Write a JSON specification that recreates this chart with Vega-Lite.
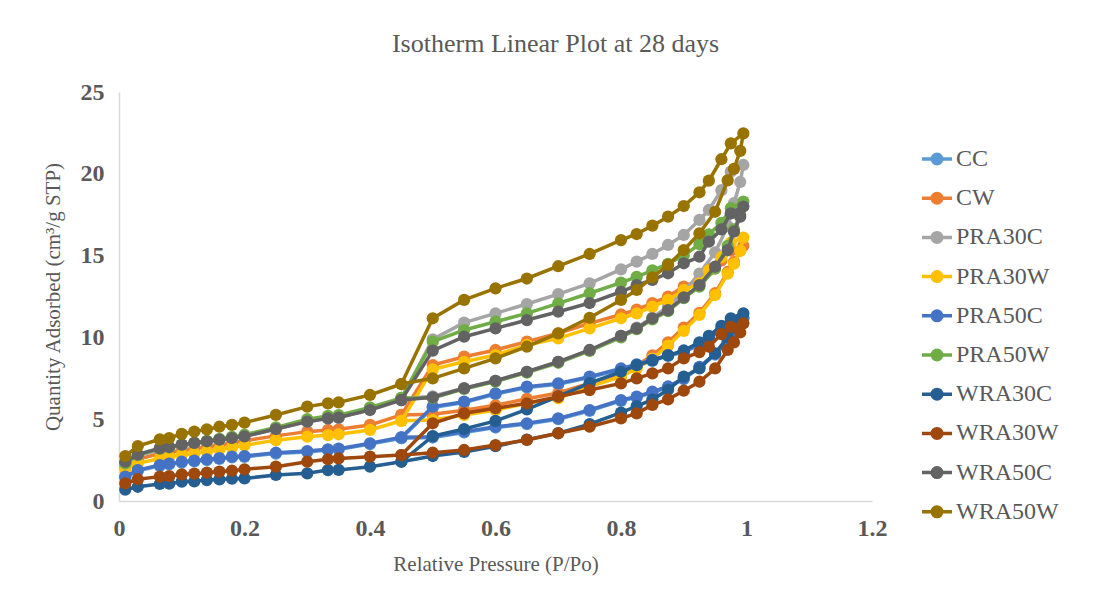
{
"$schema":"https://vega.github.io/schema/vega-lite/v6.json",
"width":753,"height":409,
"autosize":{"type":"none"},
"padding":{"left":119,"top":92,"right":222,"bottom":102},
"background":"white",
"title":{"text":"Isotherm Linear Plot at 28 days","font":"Liberation Serif","fontSize":26,"fontWeight":"normal","color":"#595959","anchor":"middle","dx":60,"offset":23},
"config":{
 "view":{"stroke":null},
 "axis":{"domainColor":"#D9D9D9","domainWidth":1.5,"grid":false,"ticks":false,"labelFont":"Liberation Serif","labelFontSize":24,"labelFontWeight":"bold","labelColor":"#595959","titleFont":"Liberation Serif","titleFontSize":21,"titleFontWeight":"normal","titleColor":"#595959","labelFlush":false},
 "axisX":{"labelPadding":15,"titlePadding":13},
 "axisY":{"labelPadding":15,"titlePadding":17}
},
"data":{"values":[
{"s":"CC","o":0,"p":0.01,"q":1.44},{"s":"CC","o":1,"p":0.03,"q":1.84},{"s":"CC","o":2,"p":0.065,"q":2.15},{"s":"CC","o":3,"p":0.08,"q":2.23},{"s":"CC","o":4,"p":0.1,"q":2.35},{"s":"CC","o":5,"p":0.12,"q":2.42},{"s":"CC","o":6,"p":0.14,"q":2.5},{"s":"CC","o":7,"p":0.16,"q":2.57},{"s":"CC","o":8,"p":0.18,"q":2.66},{"s":"CC","o":9,"p":0.2,"q":2.7},{"s":"CC","o":10,"p":0.25,"q":2.9},{"s":"CC","o":11,"p":0.3,"q":3.0},{"s":"CC","o":12,"p":0.333,"q":3.11},{"s":"CC","o":13,"p":0.35,"q":3.15},{"s":"CC","o":14,"p":0.4,"q":3.48},{"s":"CC","o":15,"p":0.45,"q":3.84},{"s":"CC","o":16,"p":0.5,"q":3.88},{"s":"CC","o":17,"p":0.55,"q":4.19},{"s":"CC","o":18,"p":0.6,"q":4.49},{"s":"CC","o":19,"p":0.65,"q":4.7},{"s":"CC","o":20,"p":0.7,"q":5.0},{"s":"CC","o":21,"p":0.75,"q":5.51},{"s":"CC","o":22,"p":0.8,"q":6.12},{"s":"CC","o":23,"p":0.825,"q":6.33},{"s":"CC","o":24,"p":0.85,"q":6.63},{"s":"CC","o":25,"p":0.875,"q":6.95},{"s":"CC","o":26,"p":0.9,"q":7.45},{"s":"CC","o":27,"p":0.925,"q":8.15},{"s":"CC","o":28,"p":0.95,"q":8.95},{"s":"CC","o":29,"p":0.97,"q":9.75},{"s":"CC","o":30,"p":0.98,"q":10.25},{"s":"CC","o":31,"p":0.99,"q":10.75},{"s":"CC","o":32,"p":0.995,"q":11.15},{"s":"CC","o":33,"p":0.975,"q":10.95},{"s":"CC","o":34,"p":0.96,"q":10.45},{"s":"CC","o":35,"p":0.94,"q":9.95},{"s":"CC","o":36,"p":0.925,"q":9.55},{"s":"CC","o":37,"p":0.9,"q":9.08},{"s":"CC","o":38,"p":0.875,"q":8.87},{"s":"CC","o":39,"p":0.85,"q":8.57},{"s":"CC","o":40,"p":0.825,"q":8.3},{"s":"CC","o":41,"p":0.8,"q":8.05},{"s":"CC","o":42,"p":0.75,"q":7.55},{"s":"CC","o":43,"p":0.7,"q":7.14},{"s":"CC","o":44,"p":0.65,"q":6.94},{"s":"CC","o":45,"p":0.6,"q":6.53},{"s":"CC","o":46,"p":0.55,"q":6.02},{"s":"CC","o":47,"p":0.5,"q":5.72},{"s":"CC","o":48,"p":0.45,"q":3.84},
{"s":"CW","o":0,"p":0.01,"q":2.1},{"s":"CW","o":1,"p":0.03,"q":2.55},{"s":"CW","o":2,"p":0.065,"q":2.9},{"s":"CW","o":3,"p":0.08,"q":2.97},{"s":"CW","o":4,"p":0.1,"q":3.1},{"s":"CW","o":5,"p":0.12,"q":3.2},{"s":"CW","o":6,"p":0.14,"q":3.3},{"s":"CW","o":7,"p":0.16,"q":3.42},{"s":"CW","o":8,"p":0.18,"q":3.55},{"s":"CW","o":9,"p":0.2,"q":3.68},{"s":"CW","o":10,"p":0.25,"q":3.98},{"s":"CW","o":11,"p":0.3,"q":4.24},{"s":"CW","o":12,"p":0.333,"q":4.34},{"s":"CW","o":13,"p":0.35,"q":4.38},{"s":"CW","o":14,"p":0.4,"q":4.65},{"s":"CW","o":15,"p":0.45,"q":5.26},{"s":"CW","o":16,"p":0.5,"q":5.3},{"s":"CW","o":17,"p":0.55,"q":5.55},{"s":"CW","o":18,"p":0.6,"q":5.85},{"s":"CW","o":19,"p":0.65,"q":6.25},{"s":"CW","o":20,"p":0.7,"q":6.6},{"s":"CW","o":21,"p":0.75,"q":7.2},{"s":"CW","o":22,"p":0.8,"q":7.8},{"s":"CW","o":23,"p":0.825,"q":8.3},{"s":"CW","o":24,"p":0.85,"q":8.9},{"s":"CW","o":25,"p":0.875,"q":9.7},{"s":"CW","o":26,"p":0.9,"q":10.6},{"s":"CW","o":27,"p":0.925,"q":11.5},{"s":"CW","o":28,"p":0.95,"q":12.7},{"s":"CW","o":29,"p":0.97,"q":14.0},{"s":"CW","o":30,"p":0.98,"q":14.6},{"s":"CW","o":31,"p":0.99,"q":15.3},{"s":"CW","o":32,"p":0.995,"q":15.6},{"s":"CW","o":33,"p":0.975,"q":15.3},{"s":"CW","o":34,"p":0.96,"q":14.7},{"s":"CW","o":35,"p":0.94,"q":14.2},{"s":"CW","o":36,"p":0.925,"q":13.5},{"s":"CW","o":37,"p":0.9,"q":13.1},{"s":"CW","o":38,"p":0.875,"q":12.5},{"s":"CW","o":39,"p":0.85,"q":12.1},{"s":"CW","o":40,"p":0.825,"q":11.7},{"s":"CW","o":41,"p":0.8,"q":11.4},{"s":"CW","o":42,"p":0.75,"q":10.86},{"s":"CW","o":43,"p":0.7,"q":10.25},{"s":"CW","o":44,"p":0.65,"q":9.74},{"s":"CW","o":45,"p":0.6,"q":9.23},{"s":"CW","o":46,"p":0.55,"q":8.82},{"s":"CW","o":47,"p":0.5,"q":8.31},{"s":"CW","o":48,"p":0.45,"q":5.26},
{"s":"PRA30C","o":0,"p":0.01,"q":2.25},{"s":"PRA30C","o":1,"p":0.03,"q":2.75},{"s":"PRA30C","o":2,"p":0.065,"q":3.15},{"s":"PRA30C","o":3,"p":0.08,"q":3.25},{"s":"PRA30C","o":4,"p":0.1,"q":3.4},{"s":"PRA30C","o":5,"p":0.12,"q":3.5},{"s":"PRA30C","o":6,"p":0.14,"q":3.62},{"s":"PRA30C","o":7,"p":0.16,"q":3.72},{"s":"PRA30C","o":8,"p":0.18,"q":3.84},{"s":"PRA30C","o":9,"p":0.2,"q":3.95},{"s":"PRA30C","o":10,"p":0.25,"q":4.4},{"s":"PRA30C","o":11,"p":0.3,"q":4.85},{"s":"PRA30C","o":12,"p":0.333,"q":5.05},{"s":"PRA30C","o":13,"p":0.35,"q":5.1},{"s":"PRA30C","o":14,"p":0.4,"q":5.6},{"s":"PRA30C","o":15,"p":0.45,"q":6.25},{"s":"PRA30C","o":16,"p":0.5,"q":6.4},{"s":"PRA30C","o":17,"p":0.55,"q":6.9},{"s":"PRA30C","o":18,"p":0.6,"q":7.35},{"s":"PRA30C","o":19,"p":0.65,"q":7.9},{"s":"PRA30C","o":20,"p":0.7,"q":8.5},{"s":"PRA30C","o":21,"p":0.75,"q":9.2},{"s":"PRA30C","o":22,"p":0.8,"q":10.1},{"s":"PRA30C","o":23,"p":0.825,"q":10.6},{"s":"PRA30C","o":24,"p":0.85,"q":11.2},{"s":"PRA30C","o":25,"p":0.875,"q":11.9},{"s":"PRA30C","o":26,"p":0.9,"q":12.8},{"s":"PRA30C","o":27,"p":0.925,"q":13.9},{"s":"PRA30C","o":28,"p":0.95,"q":15.2},{"s":"PRA30C","o":29,"p":0.97,"q":16.8},{"s":"PRA30C","o":30,"p":0.98,"q":18.2},{"s":"PRA30C","o":31,"p":0.99,"q":19.5},{"s":"PRA30C","o":32,"p":0.995,"q":20.54},{"s":"PRA30C","o":33,"p":0.975,"q":20.13},{"s":"PRA30C","o":34,"p":0.96,"q":19.0},{"s":"PRA30C","o":35,"p":0.94,"q":17.79},{"s":"PRA30C","o":36,"p":0.925,"q":17.18},{"s":"PRA30C","o":37,"p":0.9,"q":16.26},{"s":"PRA30C","o":38,"p":0.875,"q":15.65},{"s":"PRA30C","o":39,"p":0.85,"q":15.1},{"s":"PRA30C","o":40,"p":0.825,"q":14.63},{"s":"PRA30C","o":41,"p":0.8,"q":14.16},{"s":"PRA30C","o":42,"p":0.75,"q":13.3},{"s":"PRA30C","o":43,"p":0.7,"q":12.65},{"s":"PRA30C","o":44,"p":0.65,"q":12.04},{"s":"PRA30C","o":45,"p":0.6,"q":11.47},{"s":"PRA30C","o":46,"p":0.55,"q":10.9},{"s":"PRA30C","o":47,"p":0.5,"q":9.88},{"s":"PRA30C","o":48,"p":0.45,"q":6.25},
{"s":"PRA30W","o":0,"p":0.01,"q":1.95},{"s":"PRA30W","o":1,"p":0.03,"q":2.3},{"s":"PRA30W","o":2,"p":0.065,"q":2.6},{"s":"PRA30W","o":3,"p":0.08,"q":2.7},{"s":"PRA30W","o":4,"p":0.1,"q":2.82},{"s":"PRA30W","o":5,"p":0.12,"q":2.92},{"s":"PRA30W","o":6,"p":0.14,"q":3.02},{"s":"PRA30W","o":7,"p":0.16,"q":3.15},{"s":"PRA30W","o":8,"p":0.18,"q":3.28},{"s":"PRA30W","o":9,"p":0.2,"q":3.4},{"s":"PRA30W","o":10,"p":0.25,"q":3.72},{"s":"PRA30W","o":11,"p":0.3,"q":3.93},{"s":"PRA30W","o":12,"p":0.333,"q":4.03},{"s":"PRA30W","o":13,"p":0.35,"q":4.08},{"s":"PRA30W","o":14,"p":0.4,"q":4.34},{"s":"PRA30W","o":15,"p":0.45,"q":4.9},{"s":"PRA30W","o":16,"p":0.5,"q":4.95},{"s":"PRA30W","o":17,"p":0.55,"q":5.26},{"s":"PRA30W","o":18,"p":0.6,"q":5.56},{"s":"PRA30W","o":19,"p":0.65,"q":5.97},{"s":"PRA30W","o":20,"p":0.7,"q":6.28},{"s":"PRA30W","o":21,"p":0.75,"q":6.99},{"s":"PRA30W","o":22,"p":0.8,"q":7.6},{"s":"PRA30W","o":23,"p":0.825,"q":8.1},{"s":"PRA30W","o":24,"p":0.85,"q":8.7},{"s":"PRA30W","o":25,"p":0.875,"q":9.5},{"s":"PRA30W","o":26,"p":0.9,"q":10.4},{"s":"PRA30W","o":27,"p":0.925,"q":11.37},{"s":"PRA30W","o":28,"p":0.95,"q":12.59},{"s":"PRA30W","o":29,"p":0.97,"q":13.9},{"s":"PRA30W","o":30,"p":0.98,"q":14.5},{"s":"PRA30W","o":31,"p":0.99,"q":15.3},{"s":"PRA30W","o":32,"p":0.995,"q":16.1},{"s":"PRA30W","o":33,"p":0.975,"q":15.8},{"s":"PRA30W","o":34,"p":0.96,"q":14.9},{"s":"PRA30W","o":35,"p":0.94,"q":14.1},{"s":"PRA30W","o":36,"p":0.925,"q":13.3},{"s":"PRA30W","o":37,"p":0.9,"q":12.9},{"s":"PRA30W","o":38,"p":0.875,"q":12.29},{"s":"PRA30W","o":39,"p":0.85,"q":11.88},{"s":"PRA30W","o":40,"p":0.825,"q":11.47},{"s":"PRA30W","o":41,"p":0.8,"q":11.17},{"s":"PRA30W","o":42,"p":0.75,"q":10.55},{"s":"PRA30W","o":43,"p":0.7,"q":9.94},{"s":"PRA30W","o":44,"p":0.65,"q":9.54},{"s":"PRA30W","o":45,"p":0.6,"q":8.92},{"s":"PRA30W","o":46,"p":0.55,"q":8.51},{"s":"PRA30W","o":47,"p":0.5,"q":8.05},{"s":"PRA30W","o":48,"p":0.45,"q":4.9},
{"s":"PRA50C","o":0,"p":0.01,"q":1.49},{"s":"PRA50C","o":1,"p":0.03,"q":1.89},{"s":"PRA50C","o":2,"p":0.065,"q":2.2},{"s":"PRA50C","o":3,"p":0.08,"q":2.28},{"s":"PRA50C","o":4,"p":0.1,"q":2.4},{"s":"PRA50C","o":5,"p":0.12,"q":2.47},{"s":"PRA50C","o":6,"p":0.14,"q":2.55},{"s":"PRA50C","o":7,"p":0.16,"q":2.62},{"s":"PRA50C","o":8,"p":0.18,"q":2.71},{"s":"PRA50C","o":9,"p":0.2,"q":2.75},{"s":"PRA50C","o":10,"p":0.25,"q":2.95},{"s":"PRA50C","o":11,"p":0.3,"q":3.05},{"s":"PRA50C","o":12,"p":0.333,"q":3.16},{"s":"PRA50C","o":13,"p":0.35,"q":3.2},{"s":"PRA50C","o":14,"p":0.4,"q":3.53},{"s":"PRA50C","o":15,"p":0.45,"q":3.89},{"s":"PRA50C","o":16,"p":0.5,"q":3.93},{"s":"PRA50C","o":17,"p":0.55,"q":4.24},{"s":"PRA50C","o":18,"p":0.6,"q":4.54},{"s":"PRA50C","o":19,"p":0.65,"q":4.75},{"s":"PRA50C","o":20,"p":0.7,"q":5.05},{"s":"PRA50C","o":21,"p":0.75,"q":5.56},{"s":"PRA50C","o":22,"p":0.8,"q":6.17},{"s":"PRA50C","o":23,"p":0.825,"q":6.38},{"s":"PRA50C","o":24,"p":0.85,"q":6.68},{"s":"PRA50C","o":25,"p":0.875,"q":7.0},{"s":"PRA50C","o":26,"p":0.9,"q":7.5},{"s":"PRA50C","o":27,"p":0.925,"q":8.2},{"s":"PRA50C","o":28,"p":0.95,"q":9.0},{"s":"PRA50C","o":29,"p":0.97,"q":9.8},{"s":"PRA50C","o":30,"p":0.98,"q":10.3},{"s":"PRA50C","o":31,"p":0.99,"q":10.8},{"s":"PRA50C","o":32,"p":0.995,"q":11.2},{"s":"PRA50C","o":33,"p":0.975,"q":11.0},{"s":"PRA50C","o":34,"p":0.96,"q":10.5},{"s":"PRA50C","o":35,"p":0.94,"q":10.0},{"s":"PRA50C","o":36,"p":0.925,"q":9.6},{"s":"PRA50C","o":37,"p":0.9,"q":9.13},{"s":"PRA50C","o":38,"p":0.875,"q":8.92},{"s":"PRA50C","o":39,"p":0.85,"q":8.62},{"s":"PRA50C","o":40,"p":0.825,"q":8.35},{"s":"PRA50C","o":41,"p":0.8,"q":8.1},{"s":"PRA50C","o":42,"p":0.75,"q":7.6},{"s":"PRA50C","o":43,"p":0.7,"q":7.19},{"s":"PRA50C","o":44,"p":0.65,"q":6.99},{"s":"PRA50C","o":45,"p":0.6,"q":6.58},{"s":"PRA50C","o":46,"p":0.55,"q":6.07},{"s":"PRA50C","o":47,"p":0.5,"q":5.77},{"s":"PRA50C","o":48,"p":0.45,"q":3.89},
{"s":"PRA50W","o":0,"p":0.01,"q":2.3},{"s":"PRA50W","o":1,"p":0.03,"q":2.8},{"s":"PRA50W","o":2,"p":0.065,"q":3.2},{"s":"PRA50W","o":3,"p":0.08,"q":3.28},{"s":"PRA50W","o":4,"p":0.1,"q":3.45},{"s":"PRA50W","o":5,"p":0.12,"q":3.55},{"s":"PRA50W","o":6,"p":0.14,"q":3.68},{"s":"PRA50W","o":7,"p":0.16,"q":3.8},{"s":"PRA50W","o":8,"p":0.18,"q":3.92},{"s":"PRA50W","o":9,"p":0.2,"q":4.05},{"s":"PRA50W","o":10,"p":0.25,"q":4.5},{"s":"PRA50W","o":11,"p":0.3,"q":5.0},{"s":"PRA50W","o":12,"p":0.333,"q":5.2},{"s":"PRA50W","o":13,"p":0.35,"q":5.25},{"s":"PRA50W","o":14,"p":0.4,"q":5.72},{"s":"PRA50W","o":15,"p":0.45,"q":6.3},{"s":"PRA50W","o":16,"p":0.5,"q":6.3},{"s":"PRA50W","o":17,"p":0.55,"q":6.85},{"s":"PRA50W","o":18,"p":0.6,"q":7.3},{"s":"PRA50W","o":19,"p":0.65,"q":7.85},{"s":"PRA50W","o":20,"p":0.7,"q":8.45},{"s":"PRA50W","o":21,"p":0.75,"q":9.18},{"s":"PRA50W","o":22,"p":0.8,"q":10.0},{"s":"PRA50W","o":23,"p":0.825,"q":10.5},{"s":"PRA50W","o":24,"p":0.85,"q":11.1},{"s":"PRA50W","o":25,"p":0.875,"q":11.6},{"s":"PRA50W","o":26,"p":0.9,"q":12.4},{"s":"PRA50W","o":27,"p":0.925,"q":13.1},{"s":"PRA50W","o":28,"p":0.95,"q":14.2},{"s":"PRA50W","o":29,"p":0.97,"q":15.6},{"s":"PRA50W","o":30,"p":0.98,"q":16.6},{"s":"PRA50W","o":31,"p":0.99,"q":17.5},{"s":"PRA50W","o":32,"p":0.995,"q":18.3},{"s":"PRA50W","o":33,"p":0.975,"q":17.9},{"s":"PRA50W","o":34,"p":0.96,"q":17.0},{"s":"PRA50W","o":35,"p":0.94,"q":16.3},{"s":"PRA50W","o":36,"p":0.925,"q":15.7},{"s":"PRA50W","o":37,"p":0.9,"q":15.0},{"s":"PRA50W","o":38,"p":0.875,"q":14.5},{"s":"PRA50W","o":39,"p":0.85,"q":14.1},{"s":"PRA50W","o":40,"p":0.825,"q":13.7},{"s":"PRA50W","o":41,"p":0.8,"q":13.35},{"s":"PRA50W","o":42,"p":0.75,"q":12.7},{"s":"PRA50W","o":43,"p":0.7,"q":12.08},{"s":"PRA50W","o":44,"p":0.65,"q":11.47},{"s":"PRA50W","o":45,"p":0.6,"q":10.96},{"s":"PRA50W","o":46,"p":0.55,"q":10.45},{"s":"PRA50W","o":47,"p":0.5,"q":9.74},{"s":"PRA50W","o":48,"p":0.45,"q":6.3},
{"s":"WRA30C","o":0,"p":0.01,"q":0.7},{"s":"WRA30C","o":1,"p":0.03,"q":0.87},{"s":"WRA30C","o":2,"p":0.065,"q":1.04},{"s":"WRA30C","o":3,"p":0.08,"q":1.06},{"s":"WRA30C","o":4,"p":0.1,"q":1.18},{"s":"WRA30C","o":5,"p":0.12,"q":1.2},{"s":"WRA30C","o":6,"p":0.14,"q":1.28},{"s":"WRA30C","o":7,"p":0.16,"q":1.32},{"s":"WRA30C","o":8,"p":0.18,"q":1.36},{"s":"WRA30C","o":9,"p":0.2,"q":1.38},{"s":"WRA30C","o":10,"p":0.25,"q":1.59},{"s":"WRA30C","o":11,"p":0.3,"q":1.69},{"s":"WRA30C","o":12,"p":0.333,"q":1.89},{"s":"WRA30C","o":13,"p":0.35,"q":1.9},{"s":"WRA30C","o":14,"p":0.4,"q":2.1},{"s":"WRA30C","o":15,"p":0.45,"q":2.4},{"s":"WRA30C","o":16,"p":0.5,"q":2.75},{"s":"WRA30C","o":17,"p":0.55,"q":3.0},{"s":"WRA30C","o":18,"p":0.6,"q":3.35},{"s":"WRA30C","o":19,"p":0.65,"q":3.75},{"s":"WRA30C","o":20,"p":0.7,"q":4.15},{"s":"WRA30C","o":21,"p":0.75,"q":4.7},{"s":"WRA30C","o":22,"p":0.8,"q":5.4},{"s":"WRA30C","o":23,"p":0.825,"q":5.8},{"s":"WRA30C","o":24,"p":0.85,"q":6.2},{"s":"WRA30C","o":25,"p":0.875,"q":6.8},{"s":"WRA30C","o":26,"p":0.9,"q":7.6},{"s":"WRA30C","o":27,"p":0.925,"q":8.1},{"s":"WRA30C","o":28,"p":0.95,"q":9.03},{"s":"WRA30C","o":29,"p":0.97,"q":10.0},{"s":"WRA30C","o":30,"p":0.98,"q":10.6},{"s":"WRA30C","o":31,"p":0.99,"q":11.1},{"s":"WRA30C","o":32,"p":0.995,"q":11.47},{"s":"WRA30C","o":33,"p":0.975,"q":11.17},{"s":"WRA30C","o":34,"p":0.96,"q":10.7},{"s":"WRA30C","o":35,"p":0.94,"q":10.1},{"s":"WRA30C","o":36,"p":0.925,"q":9.7},{"s":"WRA30C","o":37,"p":0.9,"q":9.2},{"s":"WRA30C","o":38,"p":0.875,"q":8.9},{"s":"WRA30C","o":39,"p":0.85,"q":8.6},{"s":"WRA30C","o":40,"p":0.825,"q":8.3},{"s":"WRA30C","o":41,"p":0.8,"q":7.9},{"s":"WRA30C","o":42,"p":0.75,"q":7.2},{"s":"WRA30C","o":43,"p":0.7,"q":6.4},{"s":"WRA30C","o":44,"p":0.65,"q":5.6},{"s":"WRA30C","o":45,"p":0.6,"q":4.9},{"s":"WRA30C","o":46,"p":0.55,"q":4.4},{"s":"WRA30C","o":47,"p":0.5,"q":3.97},{"s":"WRA30C","o":48,"p":0.45,"q":2.4},
{"s":"WRA30W","o":0,"p":0.01,"q":1.08},{"s":"WRA30W","o":1,"p":0.03,"q":1.33},{"s":"WRA30W","o":2,"p":0.065,"q":1.49},{"s":"WRA30W","o":3,"p":0.08,"q":1.52},{"s":"WRA30W","o":4,"p":0.1,"q":1.63},{"s":"WRA30W","o":5,"p":0.12,"q":1.67},{"s":"WRA30W","o":6,"p":0.14,"q":1.73},{"s":"WRA30W","o":7,"p":0.16,"q":1.8},{"s":"WRA30W","o":8,"p":0.18,"q":1.85},{"s":"WRA30W","o":9,"p":0.2,"q":1.94},{"s":"WRA30W","o":10,"p":0.25,"q":2.1},{"s":"WRA30W","o":11,"p":0.3,"q":2.4},{"s":"WRA30W","o":12,"p":0.333,"q":2.55},{"s":"WRA30W","o":13,"p":0.35,"q":2.6},{"s":"WRA30W","o":14,"p":0.4,"q":2.71},{"s":"WRA30W","o":15,"p":0.45,"q":2.81},{"s":"WRA30W","o":16,"p":0.5,"q":2.95},{"s":"WRA30W","o":17,"p":0.55,"q":3.12},{"s":"WRA30W","o":18,"p":0.6,"q":3.42},{"s":"WRA30W","o":19,"p":0.65,"q":3.73},{"s":"WRA30W","o":20,"p":0.7,"q":4.14},{"s":"WRA30W","o":21,"p":0.75,"q":4.54},{"s":"WRA30W","o":22,"p":0.8,"q":5.05},{"s":"WRA30W","o":23,"p":0.825,"q":5.36},{"s":"WRA30W","o":24,"p":0.85,"q":5.87},{"s":"WRA30W","o":25,"p":0.875,"q":6.21},{"s":"WRA30W","o":26,"p":0.9,"q":6.74},{"s":"WRA30W","o":27,"p":0.925,"q":7.29},{"s":"WRA30W","o":28,"p":0.95,"q":8.1},{"s":"WRA30W","o":29,"p":0.97,"q":9.23},{"s":"WRA30W","o":30,"p":0.98,"q":9.7},{"s":"WRA30W","o":31,"p":0.99,"q":10.3},{"s":"WRA30W","o":32,"p":0.995,"q":10.86},{"s":"WRA30W","o":33,"p":0.975,"q":10.65},{"s":"WRA30W","o":34,"p":0.96,"q":10.2},{"s":"WRA30W","o":35,"p":0.94,"q":9.43},{"s":"WRA30W","o":36,"p":0.925,"q":9.1},{"s":"WRA30W","o":37,"p":0.9,"q":8.72},{"s":"WRA30W","o":38,"p":0.875,"q":8.1},{"s":"WRA30W","o":39,"p":0.85,"q":7.8},{"s":"WRA30W","o":40,"p":0.825,"q":7.5},{"s":"WRA30W","o":41,"p":0.8,"q":7.19},{"s":"WRA30W","o":42,"p":0.75,"q":6.78},{"s":"WRA30W","o":43,"p":0.7,"q":6.38},{"s":"WRA30W","o":44,"p":0.65,"q":5.97},{"s":"WRA30W","o":45,"p":0.6,"q":5.67},{"s":"WRA30W","o":46,"p":0.55,"q":5.36},{"s":"WRA30W","o":47,"p":0.5,"q":4.75},{"s":"WRA30W","o":48,"p":0.45,"q":2.81},
{"s":"WRA50C","o":0,"p":0.01,"q":2.4},{"s":"WRA50C","o":1,"p":0.03,"q":2.85},{"s":"WRA50C","o":2,"p":0.065,"q":3.22},{"s":"WRA50C","o":3,"p":0.08,"q":3.3},{"s":"WRA50C","o":4,"p":0.1,"q":3.45},{"s":"WRA50C","o":5,"p":0.12,"q":3.55},{"s":"WRA50C","o":6,"p":0.14,"q":3.65},{"s":"WRA50C","o":7,"p":0.16,"q":3.75},{"s":"WRA50C","o":8,"p":0.18,"q":3.85},{"s":"WRA50C","o":9,"p":0.2,"q":3.95},{"s":"WRA50C","o":10,"p":0.25,"q":4.4},{"s":"WRA50C","o":11,"p":0.3,"q":4.85},{"s":"WRA50C","o":12,"p":0.333,"q":5.05},{"s":"WRA50C","o":13,"p":0.35,"q":5.1},{"s":"WRA50C","o":14,"p":0.4,"q":5.56},{"s":"WRA50C","o":15,"p":0.45,"q":6.17},{"s":"WRA50C","o":16,"p":0.5,"q":6.34},{"s":"WRA50C","o":17,"p":0.55,"q":6.89},{"s":"WRA50C","o":18,"p":0.6,"q":7.35},{"s":"WRA50C","o":19,"p":0.65,"q":7.9},{"s":"WRA50C","o":20,"p":0.7,"q":8.51},{"s":"WRA50C","o":21,"p":0.75,"q":9.23},{"s":"WRA50C","o":22,"p":0.8,"q":10.09},{"s":"WRA50C","o":23,"p":0.825,"q":10.55},{"s":"WRA50C","o":24,"p":0.85,"q":11.17},{"s":"WRA50C","o":25,"p":0.875,"q":11.67},{"s":"WRA50C","o":26,"p":0.9,"q":12.45},{"s":"WRA50C","o":27,"p":0.925,"q":13.2},{"s":"WRA50C","o":28,"p":0.95,"q":14.32},{"s":"WRA50C","o":29,"p":0.97,"q":15.34},{"s":"WRA50C","o":30,"p":0.98,"q":16.46},{"s":"WRA50C","o":31,"p":0.99,"q":17.38},{"s":"WRA50C","o":32,"p":0.995,"q":18.0},{"s":"WRA50C","o":33,"p":0.975,"q":17.58},{"s":"WRA50C","o":34,"p":0.96,"q":16.6},{"s":"WRA50C","o":35,"p":0.94,"q":15.85},{"s":"WRA50C","o":36,"p":0.925,"q":14.93},{"s":"WRA50C","o":37,"p":0.9,"q":14.53},{"s":"WRA50C","o":38,"p":0.875,"q":13.92},{"s":"WRA50C","o":39,"p":0.85,"q":13.51},{"s":"WRA50C","o":40,"p":0.825,"q":13.2},{"s":"WRA50C","o":41,"p":0.8,"q":12.79},{"s":"WRA50C","o":42,"p":0.75,"q":12.1},{"s":"WRA50C","o":43,"p":0.7,"q":11.57},{"s":"WRA50C","o":44,"p":0.65,"q":11.06},{"s":"WRA50C","o":45,"p":0.6,"q":10.55},{"s":"WRA50C","o":46,"p":0.55,"q":10.04},{"s":"WRA50C","o":47,"p":0.5,"q":9.19},{"s":"WRA50C","o":48,"p":0.45,"q":6.17},
{"s":"WRA50W","o":0,"p":0.01,"q":2.75},{"s":"WRA50W","o":1,"p":0.03,"q":3.36},{"s":"WRA50W","o":2,"p":0.065,"q":3.77},{"s":"WRA50W","o":3,"p":0.08,"q":3.85},{"s":"WRA50W","o":4,"p":0.1,"q":4.1},{"s":"WRA50W","o":5,"p":0.12,"q":4.24},{"s":"WRA50W","o":6,"p":0.14,"q":4.38},{"s":"WRA50W","o":7,"p":0.16,"q":4.54},{"s":"WRA50W","o":8,"p":0.18,"q":4.65},{"s":"WRA50W","o":9,"p":0.2,"q":4.79},{"s":"WRA50W","o":10,"p":0.25,"q":5.26},{"s":"WRA50W","o":11,"p":0.3,"q":5.77},{"s":"WRA50W","o":12,"p":0.333,"q":5.97},{"s":"WRA50W","o":13,"p":0.35,"q":6.03},{"s":"WRA50W","o":14,"p":0.4,"q":6.48},{"s":"WRA50W","o":15,"p":0.45,"q":7.15},{"s":"WRA50W","o":16,"p":0.5,"q":7.5},{"s":"WRA50W","o":17,"p":0.55,"q":8.11},{"s":"WRA50W","o":18,"p":0.6,"q":8.72},{"s":"WRA50W","o":19,"p":0.65,"q":9.43},{"s":"WRA50W","o":20,"p":0.7,"q":10.25},{"s":"WRA50W","o":21,"p":0.75,"q":11.2},{"s":"WRA50W","o":22,"p":0.8,"q":12.29},{"s":"WRA50W","o":23,"p":0.825,"q":12.9},{"s":"WRA50W","o":24,"p":0.85,"q":13.67},{"s":"WRA50W","o":25,"p":0.875,"q":14.43},{"s":"WRA50W","o":26,"p":0.9,"q":15.34},{"s":"WRA50W","o":27,"p":0.925,"q":16.36},{"s":"WRA50W","o":28,"p":0.95,"q":17.68},{"s":"WRA50W","o":29,"p":0.97,"q":19.6},{"s":"WRA50W","o":30,"p":0.98,"q":20.3},{"s":"WRA50W","o":31,"p":0.99,"q":21.4},{"s":"WRA50W","o":32,"p":0.995,"q":22.47},{"s":"WRA50W","o":33,"p":0.975,"q":21.86},{"s":"WRA50W","o":34,"p":0.96,"q":20.89},{"s":"WRA50W","o":35,"p":0.94,"q":19.58},{"s":"WRA50W","o":36,"p":0.925,"q":18.87},{"s":"WRA50W","o":37,"p":0.9,"q":18.03},{"s":"WRA50W","o":38,"p":0.875,"q":17.38},{"s":"WRA50W","o":39,"p":0.85,"q":16.83},{"s":"WRA50W","o":40,"p":0.825,"q":16.32},{"s":"WRA50W","o":41,"p":0.8,"q":15.95},{"s":"WRA50W","o":42,"p":0.75,"q":15.1},{"s":"WRA50W","o":43,"p":0.7,"q":14.35},{"s":"WRA50W","o":44,"p":0.65,"q":13.6},{"s":"WRA50W","o":45,"p":0.6,"q":13.0},{"s":"WRA50W","o":46,"p":0.55,"q":12.29},{"s":"WRA50W","o":47,"p":0.5,"q":11.17},{"s":"WRA50W","o":48,"p":0.45,"q":7.15}
]},
"encoding":{
 "x":{"field":"p","type":"quantitative","scale":{"domain":[0,1.2],"nice":false,"zero":false},"axis":{"title":"Relative Pressure (P/Po)","values":[0,0.2,0.4,0.6,0.8,1,1.2],"format":"~g"}},
 "y":{"field":"q","type":"quantitative","scale":{"domain":[0,25],"nice":false},"axis":{"title":"Quantity Adsorbed (cm³/g STP)","values":[0,5,10,15,20,25]}},
 "color":{"field":"s","type":"nominal","scale":{"domain":["CC","CW","PRA30C","PRA30W","PRA50C","PRA50W","WRA30C","WRA30W","WRA50C","WRA50W"],"range":["#5B9BD5","#ED7D31","#A5A5A5","#FFC000","#4472C4","#70AD47","#255E91","#9E480E","#636363","#997300"]},
  "legend":{"orient":"none","legendX":801,"legendY":50,"title":null,"labelFont":"Liberation Serif","labelFontSize":24,"labelColor":"#595959","labelOffset":2,"rowPadding":10.2,"symbolType":"M-1,0H1M-0.117,0A0.117,0.117,0,1,0,0.117,0A0.117,0.117,0,1,0,-0.117,0M-0.317,0A0.317,0.317,0,1,0,0.317,0A0.317,0.317,0,1,0,-0.317,0","symbolSize":900,"symbolStrokeWidth":3.5,"symbolOpacity":1}},
 "order":{"field":"o","type":"quantitative"}
},
"layer":[
 {"transform":[{"filter":"datum.s==='CC'"}],"mark":{"type":"line","strokeWidth":3.5,"point":{"filled":true,"size":150,"opacity":1}}},
 {"transform":[{"filter":"datum.s==='CW'"}],"mark":{"type":"line","strokeWidth":3.5,"point":{"filled":true,"size":150,"opacity":1}}},
 {"transform":[{"filter":"datum.s==='PRA30C'"}],"mark":{"type":"line","strokeWidth":3.5,"point":{"filled":true,"size":150,"opacity":1}}},
 {"transform":[{"filter":"datum.s==='PRA30W'"}],"mark":{"type":"line","strokeWidth":3.5,"point":{"filled":true,"size":150,"opacity":1}}},
 {"transform":[{"filter":"datum.s==='PRA50C'"}],"mark":{"type":"line","strokeWidth":3.5,"point":{"filled":true,"size":150,"opacity":1}}},
 {"transform":[{"filter":"datum.s==='PRA50W'"}],"mark":{"type":"line","strokeWidth":3.5,"point":{"filled":true,"size":150,"opacity":1}}},
 {"transform":[{"filter":"datum.s==='WRA30C'"}],"mark":{"type":"line","strokeWidth":3.5,"point":{"filled":true,"size":150,"opacity":1}}},
 {"transform":[{"filter":"datum.s==='WRA30W'"}],"mark":{"type":"line","strokeWidth":3.5,"point":{"filled":true,"size":150,"opacity":1}}},
 {"transform":[{"filter":"datum.s==='WRA50C'"}],"mark":{"type":"line","strokeWidth":3.5,"point":{"filled":true,"size":150,"opacity":1}}},
 {"transform":[{"filter":"datum.s==='WRA50W'"}],"mark":{"type":"line","strokeWidth":3.5,"point":{"filled":true,"size":150,"opacity":1}}}
]
}
